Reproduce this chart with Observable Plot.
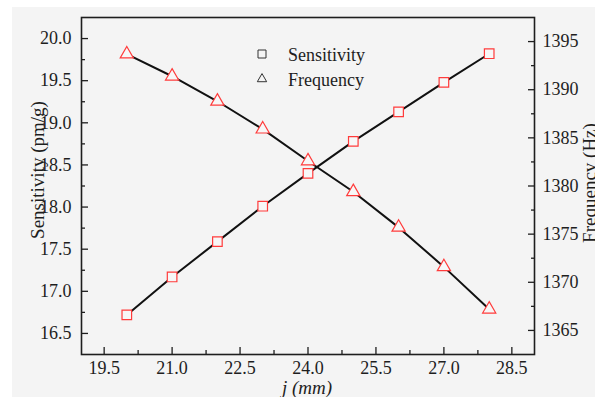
<!DOCTYPE html>
<html>
<head>
<meta charset="utf-8">
<script src="https://cdn.jsdelivr.net/npm/d3@7"></script>
<script src="https://cdn.jsdelivr.net/npm/@observablehq/plot@0.6"></script>
<style>
  html, body { margin: 0; padding: 0; background: #ffffff; }
  #wrap { position: relative; width: 595px; height: 397px; overflow: hidden; }
  #bg { position: absolute; left: 12px; top: 7px; right: 0; bottom: 0; background: #f4f4f4; }
  #chart { position: absolute; left: 0; top: 0; }
  #chart text { font-family: 'Liberation Serif', 'Times New Roman', serif; }
</style>
</head>
<body>
<div id="wrap"><div id="bg"></div><div id="chart"></div></div>
<script>
// ---- data ----
const lengths = [20, 21, 22, 23, 24, 25, 26, 27, 28];            // j (mm)
const sensitivity = [16.72, 17.17, 17.59, 18.01, 18.40, 18.78, 19.13, 19.48, 19.82]; // pm/g
const frequency = [1393.7, 1391.4, 1388.8, 1385.9, 1382.6, 1379.4, 1375.7, 1371.6, 1367.2]; // Hz

const xMajor = [19.5, 21.0, 22.5, 24.0, 25.5, 27.0, 28.5];
const xMinor = [20.25, 21.75, 23.25, 24.75, 26.25, 27.75];
const yMajor = [16.5, 17.0, 17.5, 18.0, 18.5, 19.0, 19.5, 20.0];
const yMinor = [16.75, 17.25, 17.75, 18.25, 18.75, 19.25, 19.75];
const fMajor = [1365, 1370, 1375, 1380, 1385, 1390, 1395];
const fMinor = [1367.5, 1372.5, 1377.5, 1382.5, 1387.5, 1392.5];

const yDomain = [16.25, 20.25];
const fDomain = [1362.5, 1397.5];
const toLeft = d3.scaleLinear().domain(fDomain).range(yDomain);

const sensData = lengths.map((x, i) => ({x, y: sensitivity[i]}));
const freqData = lengths.map((x, i) => ({x, y: toLeft(frequency[i])}));

const red = "#ff3b3b";
const ink = "#1e1e1e";
const font = "'Liberation Serif', 'Times New Roman', serif";

const plot = Plot.plot({
  width: 595, height: 397,
  marginLeft: 81, marginRight: 61, marginTop: 17, marginBottom: 43,
  style: {background: "transparent", fontFamily: font, fontSize: "18px", color: ink},
  x: {domain: [19, 29], axis: null},
  y: {domain: yDomain, axis: null},
  marks: [
    Plot.line(sensData, {x: "x", y: "y", stroke: "#111", strokeWidth: 2}),
    Plot.line(freqData, {x: "x", y: "y", stroke: "#111", strokeWidth: 2}),
    Plot.dot(sensData, {x: "x", y: "y", symbol: "square", r: 5.4, stroke: red, fill: "#f7f7f7", strokeWidth: 1.2}),
    Plot.dot(freqData, {x: "x", y: "y", symbol: "triangle", r: 4.9, stroke: red, fill: "#f7f7f7", strokeWidth: 1.2}),
    // x axis
    Plot.axisX(xMajor, {anchor: "bottom", label: null, tickSize: -7, tickFormat: () => "", stroke: ink, strokeWidth: 1.3}),
    Plot.axisX(xMinor, {anchor: "bottom", label: null, tickSize: -4, tickFormat: () => "", stroke: ink, strokeWidth: 1.3}),
    Plot.axisX(xMajor, {anchor: "bottom", label: null, tickSize: 0, tickPadding: 7, tickFormat: d3.format(".1f"), fill: ink}),
    // left y axis
    Plot.axisY(yMajor, {anchor: "left", label: null, tickSize: -7, tickFormat: () => "", stroke: ink, strokeWidth: 1.3}),
    Plot.axisY(yMinor, {anchor: "left", label: null, tickSize: -4, tickFormat: () => "", stroke: ink, strokeWidth: 1.3}),
    Plot.axisY(yMajor, {anchor: "left", label: null, tickSize: 0, tickPadding: 10, tickFormat: d3.format(".1f"), fill: ink}),
    // right y axis (frequency)
    Plot.axisY(fMajor.map(toLeft), {anchor: "right", label: null, tickSize: -7, tickFormat: () => "", stroke: ink, strokeWidth: 1.3}),
    Plot.axisY(fMinor.map(toLeft), {anchor: "right", label: null, tickSize: -4, tickFormat: () => "", stroke: ink, strokeWidth: 1.3}),
    Plot.axisY(fMajor.map(toLeft), {anchor: "right", label: null, tickSize: 0, tickPadding: 8, tickFormat: d => String(Math.round(toLeft.invert(d))), fill: ink}),
    Plot.frame({stroke: ink, strokeWidth: 1.6})
  ]
});

document.getElementById("chart").appendChild(plot);

const svg = d3.select(plot);

// axis titles
svg.append("text")
  .attr("transform", "translate(44,170) rotate(-90)")
  .attr("text-anchor", "middle")
  .attr("font-family", font).attr("font-size", 19).attr("fill", ink)
  .text("Sensitivity (pm/g)");
svg.append("text")
  .attr("transform", "translate(596,183) rotate(-90)")
  .attr("text-anchor", "middle")
  .attr("font-family", font).attr("font-size", 19).attr("fill", ink)
  .text("Frequency (Hz)");
svg.append("text")
  .attr("x", 307).attr("y", 394)
  .attr("text-anchor", "middle")
  .attr("font-family", font).attr("font-size", 19).attr("font-style", "italic").attr("fill", ink)
  .text("j (mm)");

// legend
const legend = [
  {label: "Sensitivity", symbol: d3.symbolSquare, size: 64, y: 54},
  {label: "Frequency", symbol: d3.symbolTriangle, size: 38, y: 79}
];
legend.forEach(l => {
  svg.append("path")
    .attr("d", d3.symbol(l.symbol, l.size)())
    .attr("transform", `translate(262,${l.y})`)
    .attr("fill", "none").attr("stroke", "#333").attr("stroke-width", 1);
  svg.append("text")
    .attr("x", 288).attr("y", l.y + 7)
    .attr("text-anchor", "start")
    .attr("font-family", font).attr("font-size", 18).attr("fill", ink)
    .text(l.label);
});
</script>
</body>
</html>
